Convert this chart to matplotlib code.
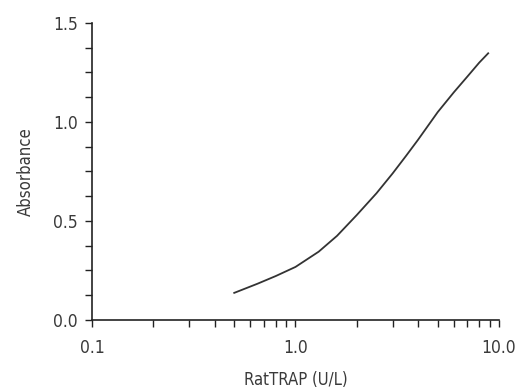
import numpy as np
import matplotlib.pyplot as plt
from matplotlib.ticker import FixedLocator, MultipleLocator, FixedFormatter

# Standard curve
conc = [0.5, 0.65, 0.8, 1.0, 1.3, 1.6, 2.0, 2.5, 3.0, 3.5, 4.0, 5.0, 6.0, 7.0, 8.0, 8.85]
absorbance = [0.137, 0.183, 0.222, 0.268, 0.345, 0.425, 0.53, 0.64, 0.74, 0.83,
              0.91, 1.05, 1.15, 1.23, 1.30, 1.347]

x_ticks = [0.1, 1.0, 10.0]
x_tick_labels = ['0.1', '1.0', '10.0']
y_ticks = [0.0, 0.5, 1.0, 1.5]

text_color = '#3a3a3a'
plt.rcParams['font.family'] = ['DejaVu Sans']
plt.rcParams['font.stretch'] = 'condensed'

fig = plt.figure(figsize=(5.18, 3.91), dpi=100)
ax = fig.add_axes([0.1776, 0.1816, 0.9633 - 0.1776, 0.9412 - 0.1816])

ax.plot(conc, absorbance, color='#333333', lw=1.3)

ax.set_xscale('log')
ax.set_xlim(0.1, 10.0)
ax.set_ylim(0.0, 1.5)

ax.xaxis.set_major_locator(FixedLocator(x_ticks))
ax.xaxis.set_major_formatter(FixedFormatter(x_tick_labels))
minors = [m * d for d in (0.1, 1.0) for m in range(2, 10)]
ax.xaxis.set_minor_locator(FixedLocator(minors))
ax.xaxis.set_minor_formatter(FixedFormatter([''] * len(minors)))

ax.yaxis.set_major_locator(FixedLocator(y_ticks))
ax.yaxis.set_minor_locator(MultipleLocator(0.125))
ax.set_yticklabels(['%.1f' % v for v in y_ticks])

for s in ['top', 'right']:
    ax.spines[s].set_visible(False)
for s in ['left', 'bottom']:
    ax.spines[s].set_linewidth(1.2)
    ax.spines[s].set_color('#222222')

ax.tick_params(which='both', direction='out', colors='#222222', width=1.0,
               labelcolor=text_color, labelsize=12.5)
ax.tick_params(which='both', length=5)
ax.tick_params(axis='x', which='major', pad=9)
ax.tick_params(axis='y', which='major', pad=5)

ax.set_xlabel('RatTRAP (U/L)', fontsize=12, color=text_color, labelpad=10)
ax.set_ylabel('Absorbance', fontsize=12, color=text_color, labelpad=13)

fig.savefig('out.png', dpi=100)
